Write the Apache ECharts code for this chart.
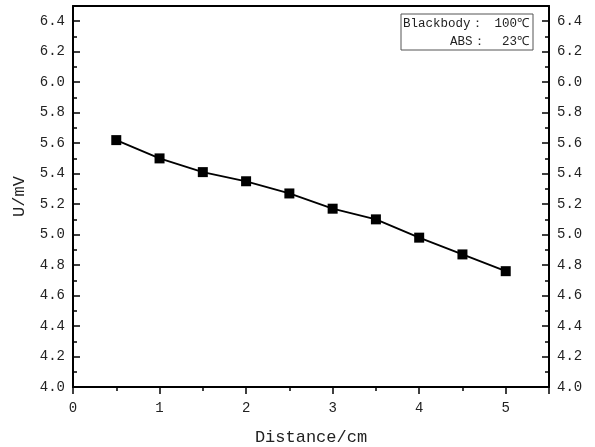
<!DOCTYPE html>
<html>
<head>
<meta charset="utf-8">
<script src="https://cdn.jsdelivr.net/npm/echarts@6/dist/echarts.min.js"></script>
<style>
html,body{margin:0;padding:0;background:#fff;}
#chart{width:595px;height:447px;}
</style>
</head>
<body>
<div id="chart"></div>
<script>
const distances = [0.5, 1, 1.5, 2, 2.5, 3, 3.5, 4, 4.5, 5];
const voltages = [5.62, 5.50, 5.41, 5.35, 5.27, 5.17, 5.10, 4.98, 4.87, 4.76];
const xTitle = 'Distance/cm';
const yTitle = 'U/mV';
const legendKeys = ['Blackbody：', 'ABS：'];
const legendVals = ['100℃', '23℃'];

const FONT = '"Liberation Mono", "DejaVu Sans Mono", monospace';
const chart = echarts.init(document.getElementById('chart'), null, {renderer: 'canvas'});

const axisLine = {show: true, onZero: false, lineStyle: {color: '#000', width: 2}};
const yCommon = {
  type: 'value', min: 4.0, max: 6.5, interval: 0.2,
  axisLine: axisLine,
  axisTick: {show: true, inside: true, length: 7, lineStyle: {color: '#000', width: 1.5}},
  minorTick: {show: true, splitNumber: 2, length: 4, lineStyle: {color: '#000', width: 1.5}},
  splitLine: {show: false},
  axisLabel: {show: true, color: '#222', fontFamily: FONT, fontSize: 14, margin: 8,
    showMaxLabel: false, formatter: v => (Math.abs(v - 6.5) < 1e-6 ? '' : v.toFixed(1))}
};

const points = distances.map((d, i) => [d, voltages[i]]);

const keyX = [403, 450];
const graphics = [{
  type: 'rect', shape: {x: 401, y: 14, width: 132, height: 36},
  style: {fill: '#fff', stroke: '#555', lineWidth: 1}
}];
legendKeys.forEach((k, i) => {
  graphics.push({
    type: 'text', x: keyX[i], y: 24 + i * 18,
    style: {text: k, font: '12.5px ' + FONT, fill: '#222', textVerticalAlign: 'middle', textAlign: 'left'}
  });
  graphics.push({
    type: 'text', x: 529, y: 24 + i * 18,
    style: {text: legendVals[i], font: '12.5px ' + FONT, fill: '#222', textVerticalAlign: 'middle', textAlign: 'right'}
  });
});

chart.setOption({
  animation: false,
  backgroundColor: '#fff',
  grid: {left: 73, right: 46, top: 6, bottom: 60, containLabel: false, outerBoundsMode: 'none'},
  xAxis: [{
    type: 'value', min: 0, max: 5.5, interval: 1, position: 'bottom',
    name: xTitle, nameLocation: 'middle', nameGap: 42,
    nameTextStyle: {fontFamily: FONT, fontSize: 17, color: '#222'},
    axisLine: axisLine,
    axisTick: {show: true, inside: false, length: 7, lineStyle: {color: '#000', width: 1.5}},
    minorTick: {show: true, splitNumber: 2, length: 4, lineStyle: {color: '#000', width: 1.5}},
    splitLine: {show: false},
    axisLabel: {color: '#222', fontFamily: FONT, fontSize: 14, margin: 14, showMaxLabel: false,
      formatter: v => (Math.abs(v - 5.5) < 1e-6 ? '' : String(v))}
  }, {
    type: 'value', min: 0, max: 5.5, position: 'top',
    axisLine: axisLine, axisTick: {show: false}, axisLabel: {show: false}, splitLine: {show: false}
  }],
  yAxis: [Object.assign({}, yCommon, {
    position: 'left', name: yTitle, nameLocation: 'middle', nameGap: 45,
    nameTextStyle: {fontFamily: FONT, fontSize: 17, color: '#222'}
  }), Object.assign({}, yCommon, {position: 'right'})],
  series: [{
    type: 'line', data: points, xAxisIndex: 0, yAxisIndex: 0,
    symbol: 'rect', symbolSize: 10, showSymbol: true,
    lineStyle: {color: '#000', width: 1.8},
    itemStyle: {color: '#000'}
  }],
  graphic: graphics
});
</script>
</body>
</html>
